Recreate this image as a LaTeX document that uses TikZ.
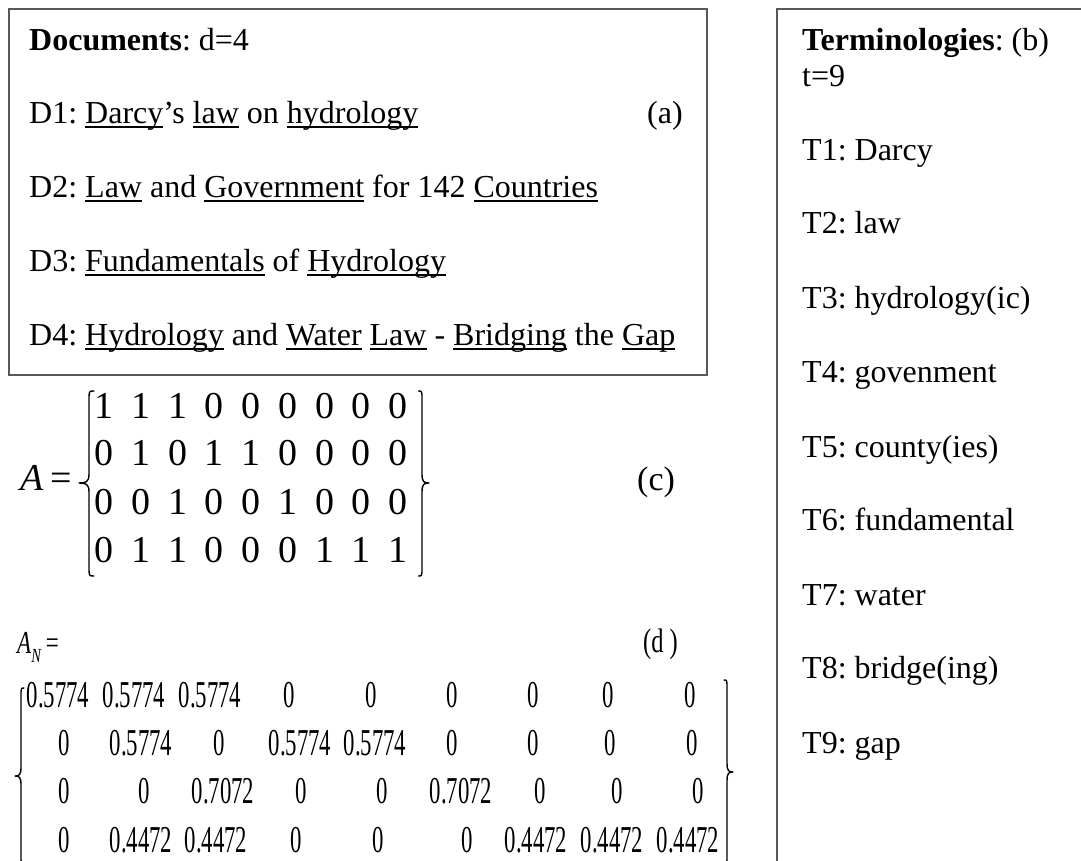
\documentclass[tikz,border=0pt]{standalone}
\usepackage{fontspec}
\setmainfont{Liberation Serif}
% condensed cuts of the serif for the normalised matrix and its label
\newfontfamily\narrowserif[FakeStretch=0.6]{Liberation Serif}
\newfontfamily\labelserif[FakeStretch=0.72]{Liberation Serif}
\frenchspacing

% underline a single word at a fixed depth below the baseline
\newsavebox{\uwordbox}
\newcommand{\uword}[1]{\sbox\uwordbox{#1}\rlap{\rule[-5pt]{\wd\uwordbox}{2pt}}\usebox\uwordbox}

\definecolor{framegray}{RGB}{88,88,88}

\tikzset{
  txt/.style={anchor=base west, inner sep=0pt, font=\fontsize{32}{36}\selectfont},
  mat/.style={anchor=base, inner sep=0pt, font=\fontsize{38}{42}\selectfont},
  nmat/.style={anchor=base, inner sep=0pt, font=\narrowserif\fontsize{38}{42}\selectfont},
  framebox/.style={draw=framegray, line width=2pt},
  bracestroke/.style={line width=1.4pt, line cap=round, line join=round},
}

% curly brace: #1 x of the stem, #2 x of the tip, #3 top, #4 middle, #5 bottom
\newcommand{\curlybrace}[5]{%
  \pgfmathsetmacro{\braceDepth}{#1-#2}%
  \pgfmathsetmacro{\braceHook}{#1+0.5*\braceDepth}%
  \draw[bracestroke] (\braceHook,#3) .. controls (#1,#3) .. (#1,#3+9)
    -- (#1,#4-9) .. controls (#1,#4-1) and (#1-0.3*\braceDepth,#4) .. (#2,#4)
    .. controls (#1-0.3*\braceDepth,#4) and (#1,#4+1) .. (#1,#4+9)
    -- (#1,#5-9) .. controls (#1,#5) .. (\braceHook,#5);
}

\begin{document}
\begin{tikzpicture}[x=1pt,y=-1pt]
\useasboundingbox (0,0) rectangle (1081,860);
\fill[white] (0,0) rectangle (1081,860);
\clip (0,0) rectangle (1081,860);

% ---- documents panel ----
\draw[framebox] (9,9) rectangle (707,375);
\node[txt] (dochead) at (29,50) {\textbf{Documents}: d=4};
\node[txt] (doc1) at (29,123) {D1: \uword{Darcy}’s \uword{law} on \uword{hydrology}};
\node[txt] (taga) at (647,123) {(a)};
\node[txt] (doc2) at (29,197) {D2: \uword{Law} and \uword{Government} for 142 \uword{Countries}};
\node[txt] (doc3) at (29,271) {D3: \uword{Fundamentals} of \uword{Hydrology}};
\node[txt] (doc4) at (29,345) {D4: \uword{Hydrology} and \uword{Water} \uword{Law} - \uword{Bridging} the \uword{Gap}};

% ---- terminology panel ----
\draw[framebox] (777,9) rectangle (1120,900);
\node[txt] (termhead) at (802,50) {\textbf{Terminologies}: (b)};
\node[txt] (termcount) at (802,86) {t=9};
\foreach \t/\y [count=\i] in {Darcy/160, law/233, hydrology(ic)/308, govenment/382,
    county(ies)/457, fundamental/530, water/605, bridge(ing)/678, gap/753}
  \node[txt] (term\i) at (802,\y) {T\i: \t};

% ---- term-document matrix A ----
\node[anchor=base west, inner sep=0pt, font=\fontsize{38}{42}\selectfont] (alabel) at (20,490) {\itshape A};
\node[anchor=base west, inner sep=0pt, font=\fontsize{38}{42}\selectfont] (aeq) at (50,490) {=};
\curlybrace{89}{79}{391}{483}{576}
\curlybrace{422}{429}{391}{483}{576}
\foreach \row/\y [count=\r] in {{1,1,1,0,0,0,0,0,0}/418, {0,1,0,1,1,0,0,0,0}/465,
    {0,0,1,0,0,1,0,0,0}/514, {0,1,1,0,0,0,1,1,1}/562}
  \foreach \v [count=\c] in \row
    \node[mat] (a\r c\c) at ({104+36.75*(\c-1)},\y) {\v};
\node[anchor=base west, inner sep=0pt, font=\fontsize{34}{38}\selectfont] (tagc) at (637,490) {(c)};

% ---- normalised matrix A_N ----
\node[anchor=base west, inner sep=0pt, font=\labelserif\fontsize{32}{36}\selectfont] (anlabel) at (17,653)
  {\itshape A\raisebox{-9pt}{\fontsize{20}{22}\selectfont N}\upshape\hspace{5pt}=};
\node[anchor=base west, inner sep=0pt, font=\labelserif\fontsize{34}{38}\selectfont] (tagd) at (643,652) {(d )};
\curlybrace{21}{15}{688}{776}{864}
\curlybrace{727}{733}{680}{772}{864}
\foreach \v/\x [count=\c] in {0.5774/58, 0.5774/134, 0.5774/210, 0/289, 0/371, 0/452, 0/533, 0/608, 0/690}
  \node[nmat] (n1c\c) at (\x,707) {\v};
\foreach \v/\x [count=\c] in {0/64, 0.5774/141, 0/219, 0.5774/300, 0.5774/375, 0/452, 0/533, 0/610, 0/692}
  \node[nmat] (n2c\c) at (\x,755) {\v};
\foreach \v/\x [count=\c] in {0/64, 0/144, 0.7072/223, 0/301, 0/382, 0.7072/461, 0/540, 0/617, 0/698}
  \node[nmat] (n3c\c) at (\x,803) {\v};
\foreach \v/\x [count=\c] in {0/64, 0.4472/141, 0.4472/216, 0/296, 0/378, 0/467, 0.4472/536, 0.4472/612, 0.4472/688}
  \node[nmat] (n4c\c) at (\x,852) {\v};
\end{tikzpicture}
\end{document}
